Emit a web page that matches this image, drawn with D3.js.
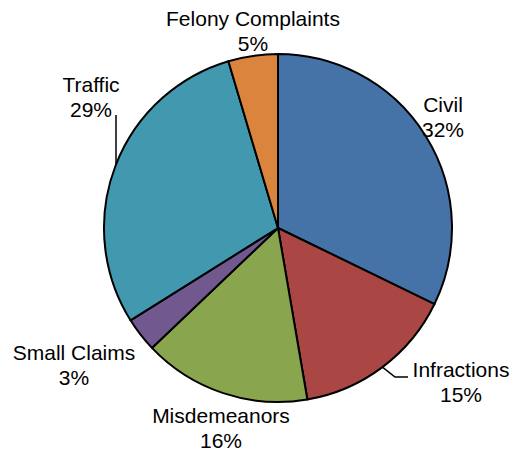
<!DOCTYPE html>
<html>
<head>
<meta charset="utf-8">
<script src="https://cdn.jsdelivr.net/npm/d3@7"></script>
<style>
    body { margin: 0; background: #fff; }
    text { font-family: "Liberation Sans", Arial, sans-serif; }
</style>
</head>
<body>
<div id="canvas"></div>
<script>
"use strict";

let svgWidth = 513;
let svgHeight = 457;

/* ---------------- DATA ---------------- */
let categories = ["Civil", "Infractions", "Misdemeanors", "Small Claims", "Traffic", "Felony Complaints"];
// slice sizes (labels show them rounded)
let shares = [32.2, 15.1, 15.6, 3.2, 29.3, 4.6];
let colors = ["#4572a7", "#aa4643", "#89a54e", "#71588f", "#4198af", "#db843d"];

/* label anchors (layout only): centre x, first baseline y */
let labelPos = [
    [443, 112],
    [461, 377],
    [221, 423],
    [74, 360],
    [91, 92],
    [253, 26]
];

let cx = 278, cy = 228, radius = 174;

let svg = d3.select("#canvas")
    .append("svg")
    .attr("width", svgWidth)
    .attr("height", svgHeight);

let total = d3.sum(shares);

let pieData = d3.pie()
    .sort(null)
    .value(d => d)(shares);

let arc = d3.arc()
    .innerRadius(0)
    .outerRadius(radius);

let g = svg.append("g")
    .attr("transform", "translate(" + cx + "," + cy + ")");

g.selectAll("path")
    .data(pieData)
    .enter()
    .append("path")
    .attr("d", arc)
    .attr("fill", (d, i) => colors[i])
    .attr("stroke", "#000")
    .attr("stroke-width", 2)
    .attr("stroke-linejoin", "round");

/* ---- leader lines ---- */
function edgePoint(i, frac) {
    let d = pieData[i];
    let a = d.startAngle + (d.endAngle - d.startAngle) * frac;
    return [cx + Math.sin(a) * radius, cy - Math.cos(a) * radius];
}

// traffic: vertical line down to the rim
let tx = 116;
let ty = cy - Math.sqrt(radius * radius - (tx - cx) * (tx - cx));
svg.append("polyline")
    .attr("points", tx + ",115 " + tx + "," + ty)
    .attr("fill", "none")
    .attr("stroke", "#000")
    .attr("stroke-width", 1.5);

let pInf = edgePoint(1, 0.5);
svg.append("polyline")
    .attr("points", pInf[0] + "," + pInf[1] + " 395,377 408,377")
    .attr("fill", "none")
    .attr("stroke", "#000")
    .attr("stroke-width", 1.5);

/* ---- labels ---- */
categories.forEach(function (c, i) {
    let t = svg.append("text")
        .attr("x", labelPos[i][0])
        .attr("y", labelPos[i][1])
        .attr("text-anchor", "middle")
        .attr("font-size", "21px")
        .attr("fill", "#000");
    t.append("tspan")
        .attr("x", labelPos[i][0])
        .text(c);
    t.append("tspan")
        .attr("x", labelPos[i][0])
        .attr("dy", 24.5)
        .text(Math.round(shares[i] / total * 100) + "%");
});
</script>
</body>
</html>
